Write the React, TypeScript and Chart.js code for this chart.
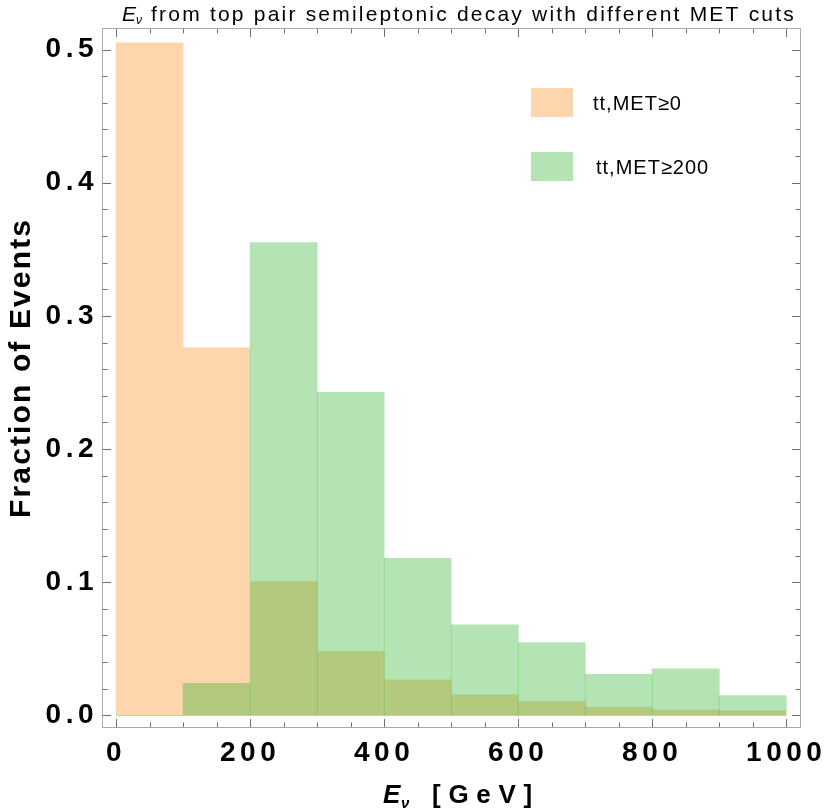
import React, { useEffect, useRef } from 'react';
import { Chart, registerables } from 'chart.js';

Chart.register(...registerables);

// ---- data ----
const binCenters = [50, 150, 250, 350, 450, 550, 650, 750, 850, 950];
const metAll = [0.505, 0.276, 0.1004, 0.0479, 0.0266, 0.0154, 0.0104, 0.0062, 0.0041, 0.0034];
const met200 = [0, 0.024, 0.355, 0.2426, 0.118, 0.0679, 0.0546, 0.0309, 0.0349, 0.0149];
const seriesLabels = ['tt,MET\u22650', 'tt,MET\u2265200'];
const xTickValues = [0, 200, 400, 600, 800, 1000];
const yTickValues = [0, 0.1, 0.2, 0.3, 0.4, 0.5];
const xMinorStep = 50;
const yMinorStep = 0.02;
const titleRest = 'from top pair semileptonic decay with different MET cuts';
const xTitleRest = '[GeV]';
const yTitle = 'Fraction of Events';

const ORANGE = 'rgb(253,214,174)';
const GREEN = 'rgba(34,176,34,0.34)';
const FONT = "'Liberation Sans', Arial, sans-serif";

function fitSpacing(ctx: CanvasRenderingContext2D, text: string, target: number) {
  ctx.letterSpacing = '0px';
  const w = ctx.measureText(text).width;
  const n = Array.from(text).length;
  return (target - w) / n;
}

const spacingPlugin = {
  id: 'spacing',
  beforeDraw(chart: any) {
    chart.ctx.letterSpacing = '4.5px';
  },
};

const framePlugin = {
  id: 'frame',
  afterDraw(chart: any) {
    const { ctx, chartArea: a, scales } = chart;
    ctx.save();
    ctx.letterSpacing = '0px';
    ctx.lineWidth = 1;
    ctx.strokeStyle = '#a9a9a9';
    ctx.strokeRect(a.left + 0.5, a.top + 0.5, a.right - a.left - 1, a.bottom - a.top - 1);
    ctx.strokeStyle = '#707070';
    ctx.beginPath();
    for (let v = 0; v <= 1000 + 1e-9; v += xMinorStep) {
      const major = xTickValues.includes(v);
      const len = major ? 8 : 4.5;
      const px = Math.round(scales.x.getPixelForValue(v)) + 0.5;
      ctx.moveTo(px, a.bottom - 1);
      ctx.lineTo(px, a.bottom - 1 - len);
      ctx.moveTo(px, a.top + 1);
      ctx.lineTo(px, a.top + 1 + len);
    }
    for (let i = 0; i <= 25; i++) {
      const v = i * yMinorStep;
      const major = i % 5 === 0;
      const len = major ? 8 : 4.5;
      const py = Math.round(scales.y.getPixelForValue(v)) + 0.5;
      ctx.moveTo(a.left + 1, py);
      ctx.lineTo(a.left + 1 + len, py);
      ctx.moveTo(a.right - 1, py);
      ctx.lineTo(a.right - 1 - len, py);
    }
    ctx.stroke();
    ctx.restore();
  },
};

const textPlugin = {
  id: 'texts',
  afterDraw(chart: any) {
    const ctx: CanvasRenderingContext2D = chart.ctx;
    ctx.save();
    ctx.fillStyle = '#000';
    ctx.textAlign = 'left';
    ctx.textBaseline = 'alphabetic';

    // Title
    ctx.letterSpacing = '0px';
    ctx.font = `italic 21px ${FONT}`;
    ctx.fillText('E', 122, 21);
    ctx.font = `italic 12px ${FONT}`;
    ctx.fillText('\u03bd', 136, 24);
    ctx.font = `21px ${FONT}`;
    const sp = fitSpacing(ctx, titleRest, 645);
    ctx.letterSpacing = `${sp}px`;
    ctx.fillText(titleRest, 151, 21);

    // X axis title
    ctx.letterSpacing = '0px';
    ctx.font = `italic bold 26px ${FONT}`;
    ctx.fillText('E', 383, 803);
    ctx.font = `italic bold 15px ${FONT}`;
    ctx.fillText('\u03bd', 401, 808);
    ctx.font = `bold 26px ${FONT}`;
    const sp2 = fitSpacing(ctx, xTitleRest, 108);
    ctx.letterSpacing = `${sp2}px`;
    ctx.fillText(xTitleRest, 432, 803);

    // Y axis title
    ctx.font = `bold 30px ${FONT}`;
    const sp3 = fitSpacing(ctx, yTitle, 300);
    ctx.letterSpacing = `${sp3}px`;
    ctx.translate(30, 369);
    ctx.rotate(-Math.PI / 2);
    ctx.textAlign = 'center';
    ctx.fillText(yTitle, sp3 / 2, 0);
    ctx.restore();

    // Legend
    ctx.save();
    const boxes = [
      { y: 88, color: ORANGE, tx: 593, ty: 110 },
      { y: 152, color: GREEN, tx: 596, ty: 174 },
    ];
    chart.data.datasets.forEach((ds: any, i: number) => {
      const b = boxes[i];
      ctx.fillStyle = '#ffffff';
      ctx.fillRect(531, b.y, 42, 29);
      ctx.fillStyle = ds.backgroundColor;
      ctx.fillRect(531, b.y, 42, 29);
      ctx.fillStyle = '#000';
      ctx.font = `20px ${FONT}`;
      ctx.letterSpacing = '1px';
      ctx.textAlign = 'left';
      ctx.textBaseline = 'alphabetic';
      ctx.fillText(ds.label, b.tx, b.ty);
    });
    ctx.restore();
  },
};

const App = () => {
  const ref = useRef<HTMLCanvasElement>(null);
  useEffect(() => {
    const canvas = ref.current;
    if (!canvas) return;
    const tickFont = { family: FONT, size: 28, weight: 'bold' as const };
    const chart = new Chart(canvas, {
      type: 'bar',
      data: {
        datasets: [
          {
            label: seriesLabels[0],
            data: binCenters.map((x, i) => ({ x, y: metAll[i] })),
            backgroundColor: ORANGE,
            borderWidth: 0,
            order: 1,
            grouped: false,
            barPercentage: 1,
            categoryPercentage: 1,
          } as any,
          {
            label: seriesLabels[1],
            data: binCenters.map((x, i) => ({ x, y: met200[i] })),
            backgroundColor: GREEN,
            borderWidth: 0,
            order: 0,
            grouped: false,
            barPercentage: 1,
            categoryPercentage: 1,
          } as any,
        ],
      },
      options: {
        responsive: false,
        animation: false,
        devicePixelRatio: 1,
        layout: { padding: { top: 28, right: 29, left: 0, bottom: 0 } },
        plugins: {
          legend: { display: false },
          tooltip: { enabled: false },
          title: { display: false },
        },
        scales: {
          x: {
            type: 'linear',
            offset: false,
            min: -21,
            max: 1022,
            grid: { display: false, drawTicks: false },
            border: { display: false },
            afterBuildTicks: (s: any) => {
              s.ticks = xTickValues.map((v) => ({ value: v }));
            },
            afterFit: (s: any) => {
              s.height = 83;
            },
            ticks: {
              font: tickFont,
              color: '#000',
              padding: 8,
              maxRotation: 0,
              autoSkip: false,
              callback: (v: any) => String(v),
            },
          },
          y: {
            type: 'linear',
            min: -0.0095,
            max: 0.5162,
            grid: { display: false, drawTicks: false },
            border: { display: false },
            afterBuildTicks: (s: any) => {
              s.ticks = yTickValues.map((v) => ({ value: v }));
            },
            afterFit: (s: any) => {
              s.width = 102;
            },
            ticks: {
              font: tickFont,
              color: '#000',
              padding: 4,
              autoSkip: false,
              callback: (v: any) => Number(v).toFixed(1),
            },
          },
        },
      } as any,
      plugins: [spacingPlugin, framePlugin, textPlugin],
    });
    return () => chart.destroy();
  }, []);
  return (
    <div style={{ position: 'absolute', left: 0, top: 0, width: 830, height: 811, background: '#fff' }}>
      <canvas ref={ref} width={830} height={811} style={{ display: 'block' }} />
    </div>
  );
};

export default App;
